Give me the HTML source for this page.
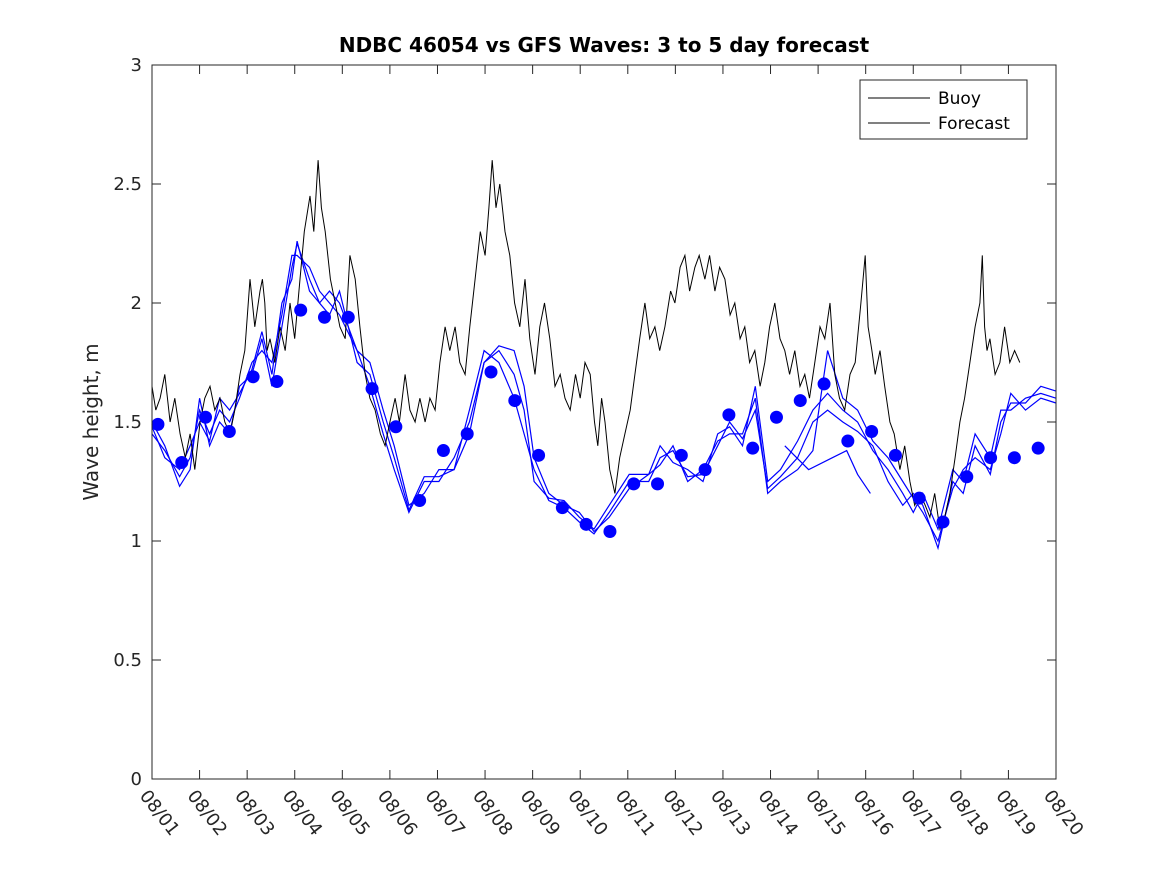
<!DOCTYPE html>
<html><head><meta charset="utf-8"><style>
body{margin:0;background:#fff;}
svg{display:block;font-family:"DejaVu Sans","Liberation Sans",sans-serif;}
</style></head><body>
<svg id="chart" width="1167" height="875">
<rect width="1167" height="875" fill="#fff"/>
<text x="604" y="52" text-anchor="middle" font-size="20" font-weight="bold">NDBC 46054 vs GFS Waves: 3 to 5 day forecast</text>
<text transform="translate(98,422) rotate(-90)" text-anchor="middle" font-size="20" fill="#262626">Wave height, m</text>
<g id="ticks"></g>
<g id="plot"></g>
<rect x="152" y="65" width="904" height="714" fill="none" stroke="#262626" stroke-width="1"/>
<g>
<rect x="860" y="80" width="167" height="59" fill="#fff" stroke="#262626"/>
<line x1="868" y1="98" x2="930" y2="98" stroke="#000"/>
<text x="938" y="104" font-size="17">Buoy</text>
<line x1="868" y1="123" x2="930" y2="123" stroke="#000"/>
<text x="938" y="129" font-size="17">Forecast</text>
</g>
</svg>
<script>
const xTickLabels=["08/01","08/02","08/03","08/04","08/05","08/06","08/07","08/08","08/09","08/10","08/11","08/12","08/13","08/14","08/15","08/16","08/17","08/18","08/19","08/20"];
const yTicks=[0,0.5,1,1.5,2,2.5,3];
// days since 08/01
const buoyT=[0,.08,.17,.27,.38,.48,.59,.70,.80,.90,1.01,1.11,1.22,1.32,1.43,1.53,1.64,1.74,1.85,1.95,2.06,2.16,2.27,2.32,2.37,2.42,2.48,2.58,2.69,2.8,2.90,3.0,3.11,3.2,3.32,3.4,3.49,3.56,3.64,3.75,3.85,3.95,4.06,4.16,4.27,4.37,4.48,4.58,4.69,4.8,4.90,5.0,5.11,5.2,5.32,5.42,5.53,5.63,5.74,5.84,5.95,6.05,6.16,6.26,6.37,6.47,6.58,6.68,6.79,6.9,7.00,7.08,7.15,7.23,7.31,7.42,7.52,7.62,7.73,7.84,7.94,8.05,8.15,8.25,8.36,8.47,8.58,8.68,8.79,8.9,9.00,9.1,9.21,9.3,9.37,9.45,9.52,9.62,9.73,9.83,9.94,10.05,10.15,10.25,10.36,10.46,10.57,10.67,10.78,10.9,10.99,11.1,11.20,11.3,11.41,11.5,11.62,11.72,11.83,11.93,12.04,12.15,12.25,12.36,12.46,12.56,12.67,12.78,12.88,12.98,13.09,13.2,13.30,13.4,13.51,13.62,13.72,13.82,13.93,14.04,14.14,14.25,14.35,14.45,14.56,14.67,14.78,14.9,14.99,15.05,15.13,15.2,15.30,15.4,15.51,15.6,15.72,15.82,15.93,16.03,16.14,16.25,16.35,16.45,16.56,16.66,16.77,16.88,16.98,17.08,17.19,17.3,17.40,17.45,17.50,17.55,17.61,17.72,17.82,17.92,18.03,18.13,18.24];
const buoyV=[1.65,1.55,1.6,1.7,1.5,1.6,1.45,1.35,1.45,1.3,1.5,1.6,1.65,1.55,1.6,1.5,1.45,1.55,1.7,1.8,2.1,1.9,2.05,2.1,2.0,1.8,1.85,1.75,1.9,1.8,2.0,1.85,2.1,2.3,2.45,2.3,2.6,2.4,2.3,2.1,2.0,1.9,1.85,2.2,2.1,1.9,1.7,1.6,1.55,1.45,1.4,1.5,1.6,1.5,1.7,1.55,1.5,1.6,1.5,1.6,1.55,1.75,1.9,1.8,1.9,1.75,1.7,1.9,2.1,2.3,2.2,2.4,2.6,2.4,2.5,2.3,2.2,2.0,1.9,2.1,1.85,1.7,1.9,2.0,1.85,1.65,1.7,1.6,1.55,1.7,1.6,1.75,1.7,1.5,1.4,1.6,1.5,1.3,1.2,1.35,1.45,1.55,1.7,1.85,2.0,1.85,1.9,1.8,1.9,2.05,2.0,2.15,2.2,2.05,2.15,2.2,2.1,2.2,2.05,2.15,2.1,1.95,2.0,1.85,1.9,1.75,1.8,1.65,1.75,1.9,2.0,1.85,1.8,1.7,1.8,1.65,1.7,1.6,1.75,1.9,1.85,2.0,1.7,1.6,1.55,1.7,1.75,2.0,2.2,1.9,1.8,1.7,1.8,1.65,1.5,1.45,1.3,1.4,1.25,1.15,1.2,1.15,1.1,1.2,1.05,1.1,1.2,1.35,1.5,1.6,1.75,1.9,2.0,2.2,1.9,1.8,1.85,1.7,1.75,1.9,1.75,1.8,1.75];
const fcT=[0,0.27,0.58,0.8,1.0,1.21,1.42,1.63,1.84,2.1,2.31,2.52,2.73,2.94,3.05,3.31,3.52,3.73,3.94,4.31,4.58,4.86,5.09,5.4,5.72,6.03,6.35,6.67,6.98,7.29,7.61,7.82,8.03,8.34,8.66,8.98,9.29,9.61,10.03,10.44,10.68,10.95,11.26,11.58,11.89,12.14,12.41,12.68,12.94,13.21,13.57,13.89,14.2,14.52,14.83,15.15,15.47,15.78,16.0,16.2,16.52,16.83,17.05,17.3,17.62,17.84,18.05,18.36,18.68,19.0];
const fcA=[1.5,1.4,1.23,1.3,1.6,1.4,1.5,1.45,1.65,1.7,1.85,1.65,1.9,2.15,2.25,2.1,2.0,1.95,2.05,1.75,1.7,1.5,1.35,1.13,1.27,1.27,1.3,1.55,1.8,1.75,1.6,1.45,1.3,1.17,1.14,1.08,1.03,1.12,1.25,1.25,1.35,1.38,1.27,1.28,1.4,1.5,1.43,1.55,1.22,1.27,1.35,1.5,1.55,1.5,1.46,1.4,1.25,1.15,1.2,1.15,0.97,1.25,1.2,1.4,1.28,1.5,1.58,1.58,1.65,1.63];
const fcB=[1.45,1.38,1.27,1.35,1.55,1.45,1.55,1.5,1.6,1.75,1.8,1.75,1.95,2.2,2.2,2.15,2.05,2.0,1.95,1.8,1.75,1.55,1.4,1.15,1.2,1.3,1.3,1.45,1.75,1.8,1.7,1.55,1.25,1.18,1.17,1.1,1.05,1.15,1.28,1.28,1.4,1.33,1.3,1.25,1.45,1.48,1.4,1.65,1.25,1.3,1.42,1.55,1.62,1.55,1.5,1.38,1.3,1.2,1.12,1.2,1.05,1.3,1.25,1.45,1.35,1.55,1.55,1.6,1.62,1.6];
const fcC=[1.48,1.35,1.3,1.4,1.5,1.42,1.6,1.55,1.62,1.72,1.88,1.7,2.0,2.1,2.26,2.05,2.0,2.05,2.0,1.8,1.65,1.45,1.3,1.12,1.25,1.25,1.35,1.5,1.75,1.82,1.8,1.65,1.35,1.2,1.15,1.12,1.04,1.1,1.22,1.28,1.32,1.4,1.25,1.3,1.42,1.45,1.45,1.6,1.2,1.25,1.3,1.38,1.8,1.6,1.55,1.42,1.35,1.25,1.18,1.12,1.0,1.22,1.3,1.35,1.3,1.45,1.62,1.55,1.6,1.58];
const fcShortT=[13.3,13.8,14.3,14.6,14.83,15.1];
const fcShortV=[1.4,1.3,1.35,1.38,1.28,1.2];
const dotT=[0.125,0.625,1.125,1.625,2.125,2.625,3.125,3.625,4.125,4.625,5.125,5.625,6.125,6.625,7.125,7.625,8.125,8.625,9.125,9.625,10.125,10.625,11.125,11.625,12.125,12.625,13.125,13.625,14.125,14.625,15.125,15.625,16.125,16.625,17.125,17.625,18.125,18.625];
const dotV=[1.49,1.33,1.52,1.46,1.69,1.67,1.97,1.94,1.94,1.64,1.48,1.17,1.38,1.45,1.71,1.59,1.36,1.14,1.07,1.04,1.24,1.24,1.36,1.30,1.53,1.39,1.52,1.59,1.66,1.42,1.46,1.36,1.18,1.08,1.27,1.35,1.35,1.39];

const X0=152,X1=1056,Y0=779,Y1=65,DAYS=19,YMAX=3;
function xs(d){return X0+d/DAYS*(X1-X0);}
function ys(v){return Y0-v/YMAX*(Y0-Y1);}
const NS="http://www.w3.org/2000/svg";
const plot=document.getElementById('plot'),ticks=document.getElementById('ticks');
function mk(tag,attrs,parent){const e=document.createElementNS(NS,tag);for(const k in attrs)e.setAttribute(k,attrs[k]);parent.appendChild(e);return e;}
xTickLabels.forEach((lab,i)=>{
  const x=xs(i);
  const t1=mk('line',{x1:x,y1:Y0,x2:x,y2:Y0-9,stroke:'#262626'},ticks);
  
  
  const t2=mk('line',{x1:x,y1:Y1,x2:x,y2:Y1+9,stroke:'#262626'},ticks);
  
  
  const tx=mk('text',{x:0,y:0,'font-size':18,fill:'#262626',transform:`translate(${x-13},${Y0+17}) rotate(52)`},ticks);
  tx.textContent=lab;
  
  
});
yTicks.forEach(v=>{
  const y=ys(v);
  const a=mk('line',{x1:X0,y1:y,x2:X0+9,y2:y,stroke:'#262626'},ticks);
  
  
  const b=mk('line',{x1:X1,y1:y,x2:X1-9,y2:y,stroke:'#262626'},ticks);
  
  
  const tx=mk('text',{x:X0-10,y:y+6,'font-size':18,fill:'#262626','text-anchor':'end'},ticks);
  tx.textContent=String(v);
  
  
});
function poly(T,V){return T.map((t,i)=>xs(t).toFixed(1)+','+ys(V[i]).toFixed(1)).join(' ');}
[[fcA,'forecast-line-a'],[fcB,'forecast-line-b'],[fcC,'forecast-line-c']].forEach(([V,n])=>{
  const p=mk('polyline',{points:poly(fcT,V),fill:'none',stroke:'#0000ff','stroke-width':1.2},plot);
  
  
});
const ps=mk('polyline',{points:poly(fcShortT,fcShortV),fill:'none',stroke:'#0000ff','stroke-width':1.2},plot);


const pb=mk('polyline',{points:poly(buoyT,buoyV),fill:'none',stroke:'#000','stroke-width':1},plot);


dotT.forEach((t,i)=>{
  const c=mk('circle',{cx:xs(t),cy:ys(dotV[i]),r:6.5,fill:'#0000ff'},plot);
  
  
});
</script>
</body></html>
